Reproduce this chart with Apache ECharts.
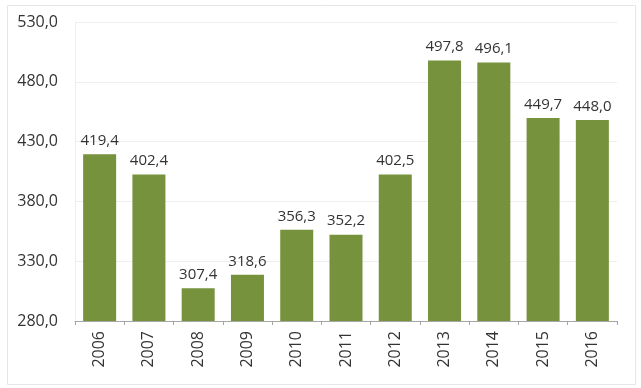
<!DOCTYPE html>
<html>
<head>
<meta charset="utf-8">
<script src="https://cdn.jsdelivr.net/npm/echarts@6/dist/echarts.min.js"></script>
<style>
html,body{margin:0;padding:0;background:#fff;}
#chart{width:641px;height:388px;}
</style>
</head>
<body>
<div id="chart"></div>
<script>
const categories = ['2006','2007','2008','2009','2010','2011','2012','2013','2014','2015','2016'];
const values = [419.4, 402.4, 307.4, 318.6, 356.3, 352.2, 402.5, 497.8, 496.1, 449.7, 448.0];
const yMin = 280, yMax = 530, yStep = 50;

const fmt = v => v.toFixed(1).replace('.', ',');
const chart = echarts.init(document.getElementById('chart'));
chart.setOption({
  animation: false,
  backgroundColor: '#fff',
  graphic: [{
    type: 'rect', left: 5, top: 3, z: -1,
    shape: { width: 628, height: 379 },
    style: { fill: 'none', stroke: '#e6e6e6', lineWidth: 1 }
  }],
  grid: { left: 75, right: 24, top: 22, bottom: 67 },
  xAxis: {
    type: 'category',
    data: categories,
    axisLine: { lineStyle: { color: '#a6a6a6' } },
    axisTick: { show: true, length: 4, alignWithLabel: false, lineStyle: { color: '#a6a6a6' } },
    axisLabel: { rotate: 90, margin: 10, fontFamily: 'Open Sans', fontSize: 16, color: '#333' }
  },
  yAxis: {
    type: 'value', min: yMin, max: yMax, interval: yStep,
    axisLine: { show: true, lineStyle: { color: '#eeeeee' } },
    axisTick: { show: false },
    splitLine: { lineStyle: { color: '#eeeeee' } },
    axisLabel: { margin: 17, fontFamily: 'Open Sans', fontSize: 16, color: '#333', formatter: v => fmt(v) }
  },
  series: [{
    type: 'bar',
    data: values,
    barCategoryGap: '33%',
    itemStyle: { color: '#76923C' },
    label: {
      show: true, position: 'top', distance: 6,
      fontFamily: 'Open Sans', fontSize: 15, color: '#333',
      formatter: p => fmt(p.value)
    }
  }]
});
</script>
</body>
</html>
